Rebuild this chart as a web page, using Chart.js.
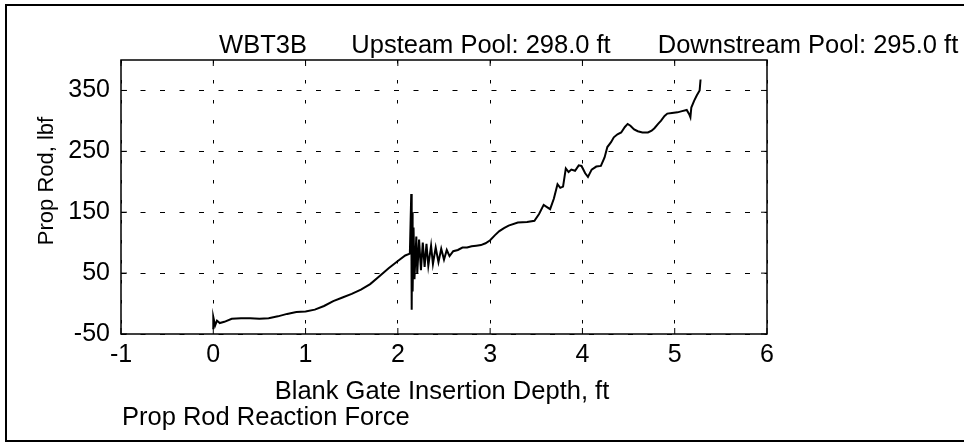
<!DOCTYPE html>
<html>
<head>
<meta charset="utf-8">
<script src="https://cdn.jsdelivr.net/npm/chart.js@4.4.1/dist/chart.umd.min.js"></script>
<style>
  body { margin: 0; background: #fff; }
  #wrap { width: 964px; height: 442px; position: relative; }
</style>
</head>
<body>
<div id="wrap"><canvas id="myChart"></canvas></div>
<script>
// values
const depthFt = [0, 0, 0.02, 0.04, 0.07, 0.12, 0.2, 0.3, 0.4, 0.5, 0.6, 0.7, 0.8, 0.9, 1.0, 1.1, 1.2, 1.3, 1.4, 1.5,
  1.6, 1.7, 1.8, 1.9, 2.0, 2.08, 2.13, 2.145, 2.15, 2.155, 2.16, 2.17, 2.18, 2.2, 2.21, 2.23, 2.25, 2.27, 2.29,
  2.31, 2.33, 2.36, 2.38, 2.41, 2.44, 2.47, 2.5, 2.53, 2.56, 2.6, 2.65, 2.7, 2.75, 2.8, 2.85, 2.9, 2.95, 3.0,
  3.05, 3.1, 3.15, 3.2, 3.3, 3.4, 3.48, 3.53, 3.58, 3.62, 3.65, 3.69, 3.73, 3.76, 3.79, 3.82, 3.85, 3.88, 3.92,
  3.96, 3.99, 4.03, 4.06, 4.1, 4.15, 4.2, 4.24, 4.27, 4.31, 4.34, 4.38, 4.42, 4.46, 4.49, 4.52, 4.56, 4.6, 4.65,
  4.71, 4.75, 4.78, 4.82, 4.85, 4.89, 4.92, 4.97, 5.03, 5.08, 5.13, 5.16, 5.17, 5.18, 5.21, 5.24, 5.27, 5.28];
const forceLbf = [-42, -22, -36, -28, -32, -30, -25, -24, -24, -25, -24, -21, -17, -14, -13, -10, -4, 4, 10, 16,
  23, 32, 45, 58, 70, 79, 82, 180, -10, 150, 20, 125, 40, 110, 50, 105, 55, 100, 60,
  98, 62, 95, 65, 92, 68, 90, 72, 88, 78, 86, 88, 92, 92, 94, 95, 96, 99, 104,
  112, 119, 124, 128, 133, 134, 136, 147, 162, 158, 155, 172, 196, 190, 192, 222, 216, 220, 218,
  227, 226, 214, 208, 220, 225, 226, 240, 257, 265, 273, 278, 281, 290, 295, 292, 286, 283, 281,
  281, 284, 288, 295, 300, 308, 312, 313, 314, 316, 318, 310, 306, 322, 333, 342, 350, 368];

const xTicks = [-1, 0, 1, 2, 3, 4, 5, 6];
const yTicks = [-50, 50, 150, 250, 350];

const titleParts = ['WBT3B', 'Upsteam Pool: 298.0 ft', 'Downstream Pool: 295.0 ft'];
const xTitle = 'Blank Gate Insertion Depth, ft';
const yTitle = 'Prop Rod, lbf';
const subTitle = 'Prop Rod Reaction Force';

const FONT = '"Liberation Sans", Arial, Helvetica, sans-serif';

const points = depthFt.map((d, i) => ({ x: d, y: forceLbf[i] }));

const decor = {
  id: 'decor',
  afterDraw(chart) {
    const ctx = chart.ctx;
    const a = chart.chartArea;
    const xs = chart.scales.x;
    const ys = chart.scales.y;
    ctx.save();
    // plot box
    ctx.strokeStyle = '#000';
    ctx.lineWidth = 1.5;
    ctx.strokeRect(a.left, a.top, a.right - a.left, a.bottom - a.top);
    // inward tick marks
    ctx.lineWidth = 1;
    xTicks.forEach(v => {
      const px = xs.getPixelForValue(v);
      ctx.beginPath();
      ctx.moveTo(px, a.bottom); ctx.lineTo(px, a.bottom - 6);
      ctx.moveTo(px, a.top); ctx.lineTo(px, a.top + 6);
      ctx.stroke();
    });
    yTicks.forEach(v => {
      const py = ys.getPixelForValue(v);
      ctx.beginPath();
      ctx.moveTo(a.left, py); ctx.lineTo(a.left + 6, py);
      ctx.moveTo(a.right, py); ctx.lineTo(a.right - 6, py);
      ctx.stroke();
    });
    // outer frame (left, top, bottom)
    ctx.lineWidth = 2;
    ctx.beginPath();
    ctx.moveTo(964, 5); ctx.lineTo(6, 5); ctx.lineTo(6, 441); ctx.lineTo(964, 441);
    ctx.stroke();

    ctx.fillStyle = '#000';
    ctx.textBaseline = 'alphabetic';
    ctx.font = '25.5px ' + FONT;
    ctx.textAlign = 'center';
    ctx.fillText(titleParts[0], 263, 53);
    ctx.fillText(titleParts[1], 481, 53);
    ctx.fillText(titleParts[2], 808, 53);
    ctx.fillText(xTitle, 442, 399);
    ctx.textAlign = 'left';
    ctx.fillText(subTitle, 122, 425);

    ctx.font = '22px ' + FONT;
    ctx.textAlign = 'center';
    ctx.translate(53, 181);
    ctx.rotate(-Math.PI / 2);
    ctx.fillText(yTitle, 0, 0);
    ctx.restore();
  }
};

new Chart(document.getElementById('myChart'), {
  type: 'scatter',
  data: {
    datasets: [{
      data: points,
      showLine: true,
      borderColor: '#000',
      borderWidth: 2,
      pointRadius: 0,
      tension: 0,
      fill: false
    }]
  },
  options: {
    responsive: true,
    maintainAspectRatio: false,
    animation: false,
    layout: { padding: { left: 0, right: 197, top: 60, bottom: 0 } },
    plugins: { legend: { display: false }, tooltip: { enabled: false } },
    scales: {
      x: {
        type: 'linear',
        min: -1,
        max: 6,
        afterBuildTicks: s => { s.ticks = xTicks.map(v => ({ value: v })); },
        afterFit: s => { s.height = 108; },
        grid: { color: '#000', lineWidth: 1, drawTicks: false },
        border: { display: false, dash: [3.5, 16.5] },
        ticks: { color: '#000', padding: 6, font: { family: FONT, size: 25 }, maxRotation: 0 }
      },
      y: {
        type: 'linear',
        min: -50,
        max: 400,
        afterBuildTicks: s => { s.ticks = yTicks.map(v => ({ value: v })); },
        afterFit: s => { s.width = 121; },
        grid: { color: '#000', lineWidth: 1, drawTicks: false },
        border: { display: false, dash: [5, 14.5] },
        ticks: { color: '#000', padding: 11, font: { family: FONT, size: 25 } }
      }
    }
  },
  plugins: [decor]
});
</script>
</body>
</html>
